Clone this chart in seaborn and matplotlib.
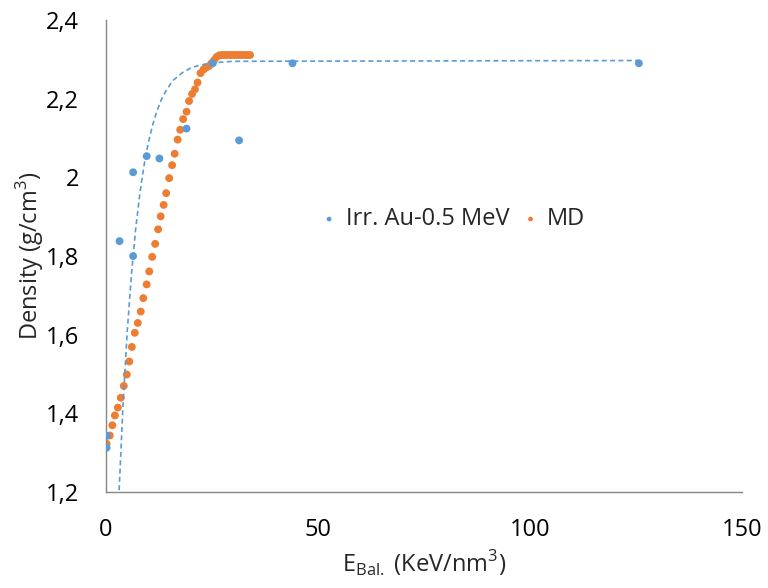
import numpy as np
import pandas as pd
import matplotlib.pyplot as plt
import seaborn as sns

# measured densities, Irr. Au-0.5 MeV
irr_x = [0.15, 0.15, 3.2, 6.4, 6.4, 9.6, 12.6, 19.0, 25.2, 31.4, 44.0, 125.7]
irr_y = [1.313, 1.343, 1.838, 1.800, 2.013, 2.054, 2.048, 2.124, 2.290, 2.094, 2.290, 2.290]

# MD simulation
md_x = [0.15, 0.9, 1.5, 2.1, 2.8, 3.5, 4.2, 4.9, 5.5, 6.1, 6.8, 7.5, 8.2, 8.8,
        9.6, 10.2, 10.9, 11.6, 12.3, 12.9, 13.6, 14.2, 14.9, 15.6, 16.2, 16.9,
        17.5, 18.2, 19.0, 19.6, 20.3, 21.0, 21.6, 22.3, 23.0, 23.6, 24.3, 24.9,
        25.5, 26.1, 26.7, 27.3, 27.9, 28.5, 29.2, 29.8, 30.4, 31.0, 31.6, 32.2,
        32.8, 33.4, 34.0]
md_y = [1.323, 1.344, 1.370, 1.395, 1.415, 1.440, 1.470, 1.499, 1.532, 1.569,
        1.605, 1.630, 1.659, 1.693, 1.728, 1.761, 1.798, 1.831, 1.868, 1.901,
        1.930, 1.960, 1.998, 2.031, 2.060, 2.096, 2.121, 2.148, 2.167, 2.194,
        2.212, 2.224, 2.241, 2.265, 2.274, 2.279, 2.283, 2.290, 2.298, 2.306,
        2.310, 2.311, 2.311, 2.311, 2.311, 2.311, 2.311, 2.311, 2.311, 2.311,
        2.311, 2.311, 2.311]

# dashed trend curve
fit_x = [3.1, 4, 5, 6, 7, 8, 9, 10, 11, 12, 13, 14, 15, 16, 18, 20, 22, 25, 30, 125.7]
fit_y = [1.205, 1.417, 1.606, 1.753, 1.869, 1.960, 2.032, 2.089, 2.133, 2.168,
         2.196, 2.217, 2.234, 2.248, 2.266, 2.278, 2.285, 2.291, 2.295, 2.297]

x_ticks = [0, 50, 100, 150]
y_ticks = [1.2, 1.4, 1.6, 1.8, 2.0, 2.2, 2.4]
y_tick_labels = ['1,2', '1,4', '1,6', '1,8', '2', '2,2', '2,4']

blue = '#5B9BD5'
orange = '#ED7D31'
grey = '#868686'

sns.set_style("white")
plt.rcParams['font.family'] = ['Open Sans', 'DejaVu Sans']
plt.rcParams['mathtext.fontset'] = 'custom'
plt.rcParams['mathtext.rm'] = 'Open Sans'

irr = pd.DataFrame({'x': irr_x, 'y': irr_y})
md = pd.DataFrame({'x': md_x, 'y': md_y})
fit = pd.DataFrame({'x': fit_x, 'y': fit_y})

fig = plt.figure(figsize=(7.68, 5.88), dpi=100)
ax = fig.add_axes([0.138, 0.163, 0.828, 0.803])

sns.scatterplot(data=md, x='x', y='y', ax=ax, color=orange, s=32,
                edgecolor='none', label='MD', zorder=2)
sns.scatterplot(data=irr, x='x', y='y', ax=ax, color=blue, s=32,
                edgecolor='none', label='Irr. Au-0.5 MeV', zorder=3)
sns.lineplot(data=fit, x='x', y='y', ax=ax, color=blue, lw=1.2,
             linestyle=(0, (3, 2)), zorder=4, legend=False)

ax.set_xlim(0, 150)
ax.set_ylim(1.2, 2.4)
ax.set_xticks(x_ticks)
ax.set_yticks(y_ticks)
ax.set_yticklabels(y_tick_labels)

for side in ['top', 'right']:
    ax.spines[side].set_visible(False)
for side in ['left', 'bottom']:
    ax.spines[side].set_color(grey)
    ax.spines[side].set_linewidth(1.0)
ax.tick_params(axis='both', direction='out', length=5.5, width=1.0, color=grey,
               labelsize=17, labelcolor='black')
ax.tick_params(axis='x', pad=13)
ax.tick_params(axis='y', pad=14)

ax.set_xlabel(r'E$_{\mathregular{Bal.}}$ (KeV/nm$^{3}$)', fontsize=17, labelpad=5)
ax.set_ylabel(r'Density (g/cm$^{3}$)', fontsize=17)
ax.yaxis.set_label_coords(-0.094, 0.5)

handles, labels = ax.get_legend_handles_labels()
order = [labels.index('Irr. Au-0.5 MeV'), labels.index('MD')]
leg = ax.legend([handles[i] for i in order], [labels[i] for i in order],
                loc='center', bbox_to_anchor=(0.543, 0.578), ncol=2, frameon=False,
                fontsize=17, markerscale=0.6, handletextpad=0.2, columnspacing=0.4,
                handlelength=1.0)

fig.savefig('out.png', dpi=100)
